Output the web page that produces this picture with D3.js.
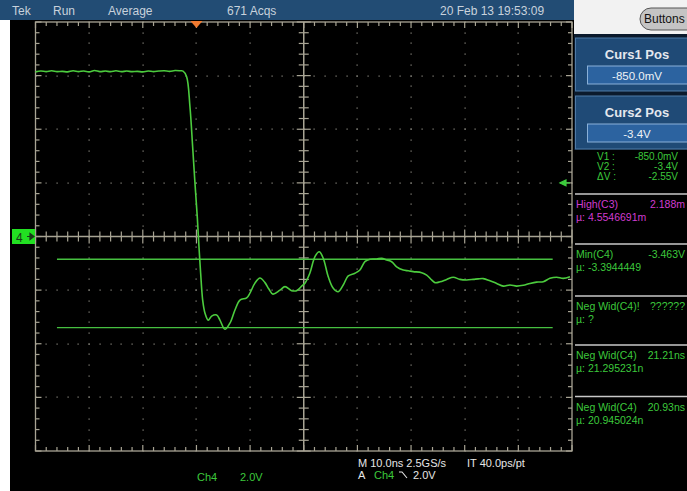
<!DOCTYPE html>
<html><head><meta charset="utf-8">
<script src="https://cdn.jsdelivr.net/npm/d3@7"></script>
<style>
html,body{margin:0;padding:0;background:#fff;overflow:hidden}
svg{display:block}
text{font-family:"Liberation Sans Narrow","Liberation Sans",Arial,sans-serif}
</style></head>
<body>
<svg id="c" width="687" height="491"></svg>
<script>
// ---- data ----
const timeNs = [-30,-29,-28,-27,-26,-25,-24,-23,-22,-21,-20,-19,-18,-17,-16,-15,-14,-13,-12,-11,-10,-9,-8,-7,-6,-5,-4,-3,-2.5,
  -1.83,-1.21,-0.71,-0.28,0.15,0.47,0.78,1.16,1.58,2.2,2.83,3.77,4.38,5.31,6.24,7.18,8.11,9.36,9.97,10.9,11.84,12.77,13.51,
  14.26,15.56,16.5,17.74,18.68,19.61,20.22,21.15,22.09,22.89,23.63,24.57,25.5,26.43,27.36,28.29,29.54,30.47,31.4,32.34,
  33.59,34.52,35.45,36.38,37.32,38.55,39.5,40.41,41.98,42.91,43.84,44.46,45.39,46.64,47.87,49.12,50.36,51.59,52.5,53.46,
  54.71,55.96,57.19,58.44,59.68,60.91,62.16,63.41,64.64,65.89,67.14,68.37,69.62];
const ch4Volts = [6.14,6.17,6.15,6.18,6.15,6.16,6.14,6.18,6.15,6.17,6.14,6.19,6.15,6.17,6.15,6.18,6.15,6.17,6.15,6.16,6.14,6.17,6.15,6.17,6.18,6.16,6.19,6.18,6.17,
  5.96,4.84,3.35,2.0,0.74,-0.38,-1.36,-2.37,-2.85,-3.12,-2.97,-2.93,-3.12,-3.46,-3.23,-2.74,-2.37,-2.29,-2.11,-1.74,-1.55,-1.72,-1.96,
  -2.15,-2.0,-1.87,-2.02,-2.02,-1.85,-1.74,-1.36,-0.75,-0.57,-0.81,-1.5,-1.93,-2.06,-1.81,-1.47,-1.37,-1.25,-0.94,-0.85,
  -0.84,-0.81,-0.88,-0.94,-1.13,-1.25,-1.28,-1.31,-1.35,-1.44,-1.62,-1.72,-1.69,-1.6,-1.52,-1.6,-1.62,-1.6,-1.58,-1.57,
  -1.65,-1.75,-1.85,-1.81,-1.85,-1.82,-1.75,-1.7,-1.69,-1.56,-1.52,-1.56,-1.5];
const cursorVolts = [-0.85, -3.4];
const cursorSpanNs = [-26, 66.4];
const triggerTimeNs = 0, triggerLevelV = 2.0;
const timeTicks = d3.range(-30, 71, 10);     // 10 ns/div
const voltTicks = d3.range(-8, 8.1, 2);      // 2.0 V/div
const headerTexts = [["Tek",12],["Run",53],["Average",108],["671 Acqs",227],["20 Feb 13 19:53:09",440]];
const cursorPanels = [["Curs1 Pos","-850.0mV"],["Curs2 Pos","-3.4V"]];
const cursorReadout = [["V1 :","-850.0mV"],["V2 :","-3.4V"],["\u0394V :","-2.55V"]];
const measurements = [
  ["High(C3)","2.188m","\u00b5:  4.5546691m","#d03cd0"],
  ["Min(C4)","-3.463V","\u00b5:  -3.3944449","#3cc83c"],
  ["Neg Wid(C4)!","??????","\u00b5:  ?","#3cc83c"],
  ["Neg Wid(C4)","21.21ns","\u00b5:  21.295231n","#3cc83c"],
  ["Neg Wid(C4)","20.93ns","\u00b5:  20.945024n","#3cc83c"]];

// ---- drawing ----
const svg = d3.select("#c");
const W=687,H=491;
svg.append("rect").attr("width",W).attr("height",H).attr("fill","#000");
svg.append("rect").attr("x",0).attr("y",20).attr("width",10).attr("height",H-20).attr("fill","#fff");

const x = d3.scaleLinear().domain([-30,70]).range([35.5,572]);
const y = d3.scaleLinear().domain([-8,8]).range([451,22]);
const gridCol = "#8c8a80";
const g = svg.append("g");

// dotted grid
const minorT = d3.range(-30, 70.01, 2), minorV = d3.range(-8, 8.01, 0.4);
timeTicks.filter(t=>t!==-30&&t!==70&&t!==20).forEach(t=>{
  minorV.forEach(v=>g.append("rect").attr("x",Math.round(x(t))-0.5).attr("y",Math.round(y(v))-0.5).attr("width",1.2).attr("height",1.2).attr("fill",gridCol));
});
voltTicks.filter(v=>v!==-8&&v!==8&&v!==0).forEach(v=>{
  minorT.forEach(t=>g.append("rect").attr("x",Math.round(x(t))-0.5).attr("y",Math.round(y(v))-0.5).attr("width",1.2).attr("height",1.2).attr("fill",gridCol));
});
// frame
const fc="#a8a494";
g.append("rect").attr("x",x(-30)).attr("y",y(8)).attr("width",x(70)-x(-30)).attr("height",y(-8)-y(8))
  .attr("fill","none").attr("stroke",fc).attr("stroke-width",1.3);
// center lines
g.append("line").attr("x1",x(-30)).attr("x2",x(70)).attr("y1",y(0)).attr("y2",y(0)).attr("stroke",fc).attr("stroke-width",1.5);
g.append("line").attr("x1",x(20)).attr("x2",x(20)).attr("y1",y(8)).attr("y2",y(-8)).attr("stroke",fc).attr("stroke-width",1.5);
// ticks on center lines and frame
minorT.forEach(t=>{
  const maj = Math.abs(t%10)<1e-6;
  const L = maj?7:5;
  g.append("line").attr("x1",x(t)).attr("x2",x(t)).attr("y1",y(0)-L).attr("y2",y(0)+L).attr("stroke",fc).attr("stroke-width",1.2);
  g.append("line").attr("x1",x(t)).attr("x2",x(t)).attr("y1",y(8)).attr("y2",y(8)+(maj?6:4)).attr("stroke",fc).attr("stroke-width",1.2);
  g.append("line").attr("x1",x(t)).attr("x2",x(t)).attr("y1",y(-8)).attr("y2",y(-8)-(maj?6:4)).attr("stroke",fc).attr("stroke-width",1.2);
});
minorV.forEach(v=>{
  const maj = Math.abs(v%2)<1e-6;
  const L = maj?7:5;
  g.append("line").attr("y1",y(v)).attr("y2",y(v)).attr("x1",x(20)-L).attr("x2",x(20)+L).attr("stroke",fc).attr("stroke-width",1.2);
  g.append("line").attr("y1",y(v)).attr("y2",y(v)).attr("x1",x(-30)).attr("x2",x(-30)+(maj?6:4)).attr("stroke",fc).attr("stroke-width",1.2);
  g.append("line").attr("y1",y(v)).attr("y2",y(v)).attr("x1",x(70)).attr("x2",x(70)-(maj?6:4)).attr("stroke",fc).attr("stroke-width",1.2);
});

// cursors
const trCol="#4ccc3e";
cursorVolts.forEach(v=>{
  svg.append("line").attr("x1",x(cursorSpanNs[0])).attr("x2",x(cursorSpanNs[1])).attr("y1",y(v)).attr("y2",y(v))
    .attr("stroke","#46c040").attr("stroke-width",1.4);
});
// trace
const pts = timeNs.map((t,i)=>[t,ch4Volts[i]]);
svg.append("path").datum(pts).attr("fill","none").attr("stroke",trCol).attr("stroke-width",1.6)
  .attr("d",d3.line().x(d=>x(d[0])).y(d=>y(d[1])).curve(d3.curveCatmullRom.alpha(0.5)));

// trigger position marker
const tx=x(triggerTimeNs);
svg.append("path").attr("d",`M${tx-6},${y(8)-1} L${tx+6},${y(8)-1} L${tx},${y(8)+6} Z`).attr("fill","#f07a30");
// trigger level arrow
const ty=y(triggerLevelV);
svg.append("path").attr("d",`M${x(70)-12},${ty} L${x(70)-6},${ty-3} L${x(70)-6},${ty+3} Z M${x(70)-7},${ty} L${x(70)-2},${ty}`)
  .attr("fill","#3ccc3c").attr("stroke","#3ccc3c").attr("stroke-width",1.2);
// ground marker
svg.append("rect").attr("x",12).attr("y",y(0)-7.5).attr("width",23).attr("height",15).attr("fill","#22e022");
svg.append("text").attr("x",16).attr("y",y(0)+5).attr("font-size",12).attr("fill","#1a3a1a").text("4");
svg.append("path").attr("d",`M${27},${y(0)} L${33},${y(0)} M${30},${y(0)-3} L${34},${y(0)} L${30},${y(0)+3} Z`)
  .attr("stroke","#1a3a1a").attr("fill","#1a3a1a").attr("stroke-width",1.2);

// header bar
svg.append("rect").attr("x",0).attr("y",0).attr("width",574).attr("height",20).attr("fill","#224c74");
headerTexts.forEach(([s,px])=>svg.append("text").attr("x",px).attr("y",15).attr("font-size",12).attr("fill","#c8d2dc").text(s));

// right column
svg.append("rect").attr("x",574).attr("y",0).attr("width",113).attr("height",34).attr("fill","#f2f2f2");
svg.append("rect").attr("x",574).attr("y",34).attr("width",113).attr("height",116).attr("fill","#0b1a2c");
svg.append("rect").attr("x",640).attr("y",8).attr("width",60).attr("height",22).attr("rx",11)
  .attr("fill","#c4c4c4").attr("stroke","#555").attr("stroke-width",1);
svg.append("text").attr("x",644).attr("y",23).attr("font-size",12).attr("fill","#111").text("Buttons");
cursorPanels.forEach(([title,val],i)=>{
  const py = 38 + i*58;
  svg.append("rect").attr("x",575.5).attr("y",py).attr("width",115).attr("height",53).attr("fill","#1f4a76").attr("stroke","#4f7aa6");
  svg.append("text").attr("x",637).attr("y",py+21).attr("text-anchor","middle").attr("font-size",13).attr("font-weight","bold")
    .attr("fill","#e4e8ee").text(title);
  svg.append("rect").attr("x",587.5).attr("y",py+28).attr("width",103).attr("height",18).attr("fill","#2c63a0").attr("stroke","#8ab0d8");
  svg.append("text").attr("x",637).attr("y",py+42).attr("text-anchor","middle").attr("font-size",11.5).attr("fill","#eef2f6").text(val);
});
cursorReadout.forEach(([a,b],i)=>{
  const yy=160+i*10;
  svg.append("text").attr("x",597).attr("y",yy).attr("font-size",10).attr("fill","#3cc83c").text(a);
  svg.append("text").attr("x",678).attr("y",yy).attr("text-anchor","end").attr("font-size",10).attr("fill","#3cc83c").text(b);
});
const sepY=[194,244,296,345,396.5];
measurements.forEach(([lab,val,mu,col],i)=>{
  const sy=sepY[i];
  svg.append("line").attr("x1",575).attr("x2",687).attr("y1",sy).attr("y2",sy).attr("stroke","#c8c8c8").attr("stroke-width",1.6);
  svg.append("text").attr("x",576).attr("y",sy+14).attr("font-size",10.5).attr("fill",col).text(lab);
  svg.append("text").attr("x",685).attr("y",sy+14).attr("text-anchor","end").attr("font-size",10.5).attr("fill",col).text(val);
  svg.append("text").attr("x",576).attr("y",sy+27).attr("font-size",10.5).attr("fill",col).text(mu);
});

// bottom status
svg.append("text").attr("x",197).attr("y",481).attr("font-size",11).attr("fill","#3cc83c").text("Ch4");
svg.append("text").attr("x",240).attr("y",481).attr("font-size",11).attr("fill","#3cc83c").text("2.0V");
svg.append("text").attr("x",358).attr("y",467).attr("font-size",11).attr("fill","#e6e6e6").text("M 10.0ns 2.5GS/s");
svg.append("text").attr("x",467).attr("y",467).attr("font-size",11).attr("fill","#e6e6e6").text("IT 40.0ps/pt");
svg.append("text").attr("x",358).attr("y",479).attr("font-size",11).attr("fill","#e6e6e6").text("A");
svg.append("text").attr("x",374).attr("y",479).attr("font-size",11).attr("fill","#3cc83c").text("Ch4");
svg.append("path").attr("d","M399,472 L402,472 L407,478").attr("fill","none").attr("stroke","#e6e6e6").attr("stroke-width",1.1);
svg.append("text").attr("x",413).attr("y",479).attr("font-size",11).attr("fill","#e6e6e6").text("2.0V");
</script>
</body></html>
